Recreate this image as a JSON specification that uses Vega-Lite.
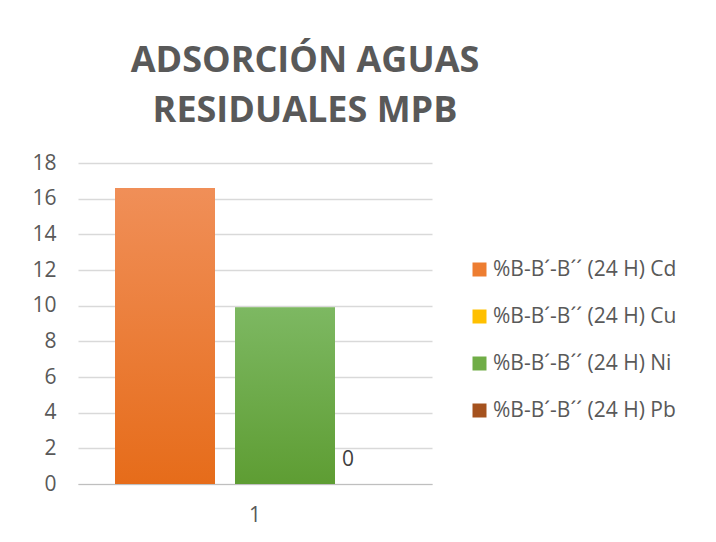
{
  "$schema": "https://vega.github.io/schema/vega-lite/v6.json",
  "autosize": {"type": "none"},
  "width": 354,
  "height": 321,
  "padding": {"left": 78, "top": 163, "right": 284, "bottom": 58},
  "background": "white",
  "config": {
    "view": {"stroke": null},
    "font": "Open Sans"
  },
  "title": {
    "text": ["ADSORCIÓN AGUAS", "RESIDUALES MPB"],
    "fontSize": 36,
    "fontWeight": "bold",
    "font": "Open Sans",
    "color": "#595959",
    "lineHeight": 50,
    "anchor": "middle",
    "frame": "group",
    "dx": 50,
    "offset": 22
  },
  "data": {
    "values": [
      {"cat": "1", "serie": "%B-B´-B´´ (24 H) Cd", "valor": 16.6},
      {"cat": "1", "serie": "%B-B´-B´´ (24 H) Cu", "valor": null},
      {"cat": "1", "serie": "%B-B´-B´´ (24 H) Ni", "valor": 9.9},
      {"cat": "1", "serie": "%B-B´-B´´ (24 H) Pb", "valor": 0}
    ]
  },
  "encoding": {
    "x": {
      "field": "cat", "type": "nominal",
      "scale": {"paddingInner": 0, "paddingOuter": 0},
      "axis": {"title": null, "labelAngle": 0, "ticks": false, "domainColor": "#bfbfbf", "domainWidth": 1, "labelPadding": 20, "labelFontSize": 21, "labelColor": "#595959", "labelFont": "Open Sans"}
    },
    "xOffset": {
      "field": "serie", "type": "nominal",
      "scale": {"type": "point", "domain": ["%B-B´-B´´ (24 H) Cd", "%B-B´-B´´ (24 H) Cu", "%B-B´-B´´ (24 H) Ni", "%B-B´-B´´ (24 H) Pb"], "range": [87, 267], "padding": 0}
    },
    "y": {
      "field": "valor", "type": "quantitative",
      "scale": {"domain": [0, 18]},
      "axis": {"title": null, "values": [0, 2, 4, 6, 8, 10, 12, 14, 16, 18], "domain": false, "ticks": false, "gridColor": "#d9d9d9", "gridWidth": 1.5, "labelPadding": 22, "labelFontSize": 21, "labelColor": "#595959", "labelFont": "Open Sans"}
    }
  },
  "layer": [
    {
      "mark": {"type": "bar", "width": 100},
      "encoding": {
        "color": {
          "field": "serie", "type": "nominal",
          "scale": {
            "domain": ["%B-B´-B´´ (24 H) Cd", "%B-B´-B´´ (24 H) Cu", "%B-B´-B´´ (24 H) Ni", "%B-B´-B´´ (24 H) Pb"],
            "range": ["#ED7D31", "#FFC000", "#70AD47", "#A5521E"]
          },
          "legend": {
            "title": null,
            "orient": "none",
            "legendX": 391,
            "legendY": 96,
            "symbolType": "square",
            "symbolSize": 196,
            "symbolStrokeWidth": 0,
            "symbolOpacity": 1,
            "rowPadding": 25,
            "labelOffset": 3,
            "labelFontSize": 21,
            "labelColor": "#595959",
            "labelFont": "Open Sans",
            "labelLimit": 300
          }
        }
      }
    },
    {
      "transform": [{"filter": "datum.serie === '%B-B´-B´´ (24 H) Cd'"}],
      "mark": {"type": "bar", "width": 100, "color": {"gradient": "linear", "x1": 0, "y1": 0, "x2": 0, "y2": 1, "stops": [{"offset": 0, "color": "#F08F58"}, {"offset": 1, "color": "#E66C1A"}]}}
    },
    {
      "transform": [{"filter": "datum.serie === '%B-B´-B´´ (24 H) Ni'"}],
      "mark": {"type": "bar", "width": 100, "color": {"gradient": "linear", "x1": 0, "y1": 0, "x2": 0, "y2": 1, "stops": [{"offset": 0, "color": "#7DB862"}, {"offset": 1, "color": "#5E9D33"}]}}
    },
    {
      "transform": [{"filter": "datum.valor === 0"}],
      "mark": {"type": "text", "fontSize": 21, "color": "#404040", "dy": -24, "dx": 3, "font": "Open Sans"},
      "encoding": {"text": {"field": "valor", "type": "quantitative"}}
    }
  ]
}
